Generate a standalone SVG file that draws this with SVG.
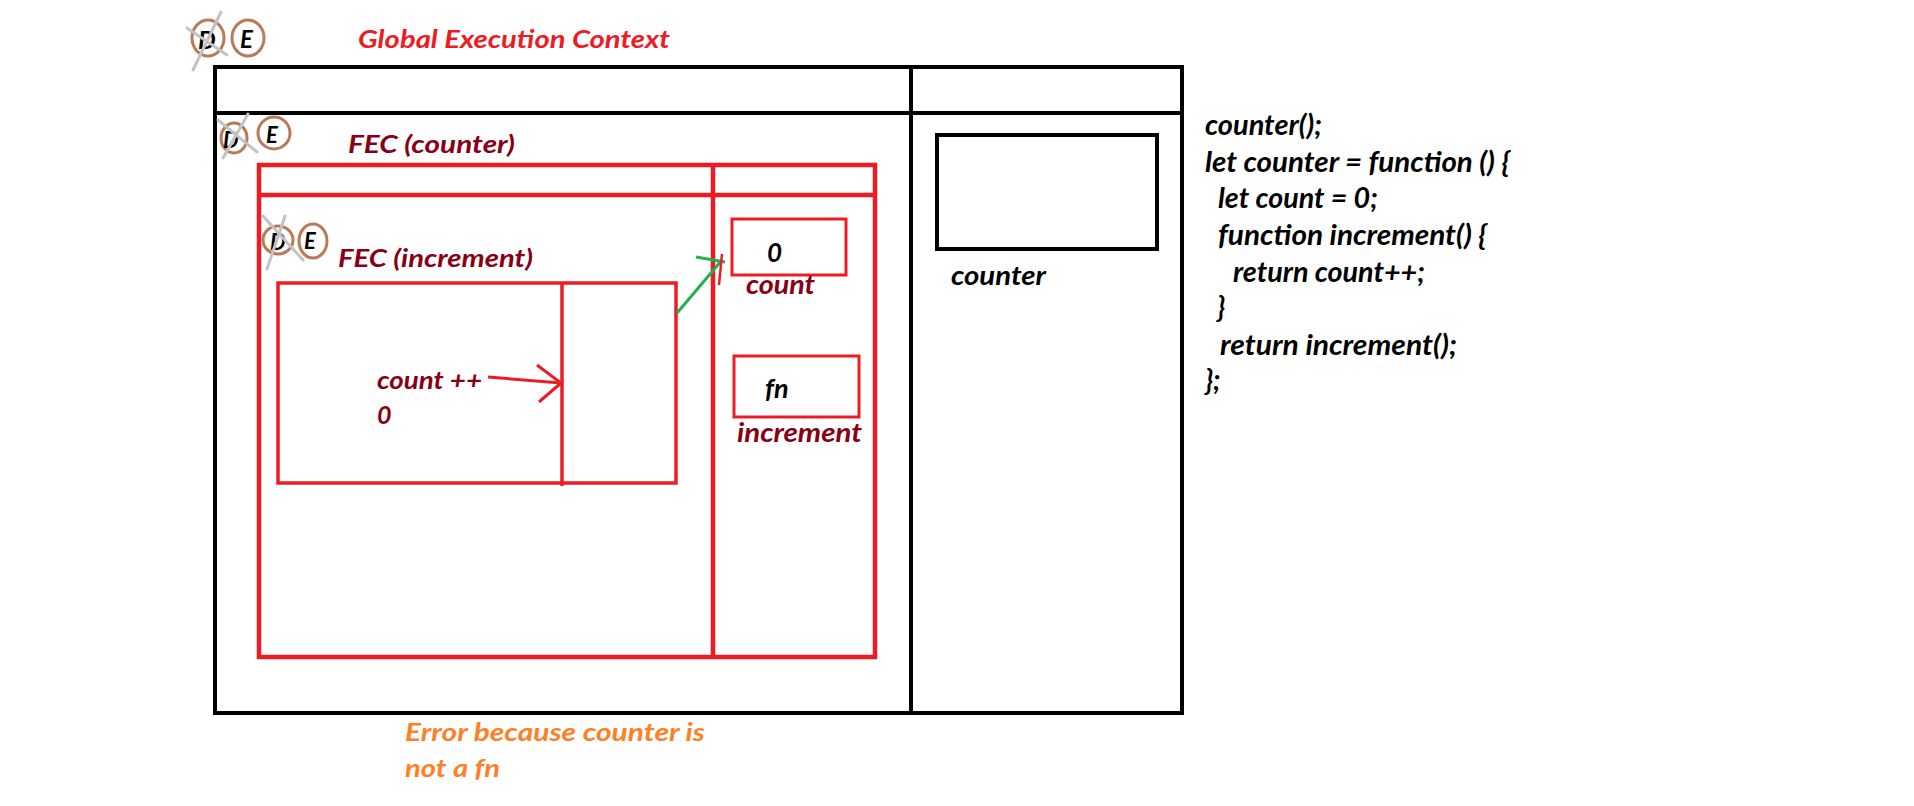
<svg xmlns="http://www.w3.org/2000/svg" width="1914" height="806" viewBox="0 0 1914 806">
<style>
  .t { font-family: "Lato", "Liberation Sans", sans-serif; font-weight: bold; font-style: italic; }
  .red { fill: #ED1C24; }
  .dred { fill: #880015; }
  .blk { fill: #000000; }
  .org { fill: #FF7F27; }
  .ring { fill: none; stroke: #B97A57; stroke-width: 3; }
  .cross { stroke: #C3C3C3; stroke-width: 3; stroke-linecap: round; }
  .bbox { fill: none; stroke: #000; stroke-width: 4; }
  .rbox { fill: none; stroke: #ED1C24; }
</style>
<rect width="1914" height="806" fill="#ffffff"/>

<g id="gec">
  <rect class="bbox" x="215" y="67" width="967" height="646"/>
  <line x1="215" y1="113" x2="1182" y2="113" stroke="#000" stroke-width="4"/>
  <line x1="911" y1="67" x2="911" y2="713" stroke="#000" stroke-width="4"/>
  <text class="t red" x="358" y="48" font-size="25" textLength="312" lengthAdjust="spacingAndGlyphs">Global Execution Context</text>
</g>

<g id="gec-de">
  <ellipse class="ring" cx="208" cy="38" rx="16" ry="18"/>
  <ellipse class="ring" cx="248" cy="38" rx="16" ry="18"/>
  <text class="t blk" x="198" y="49" font-size="25">D</text>
  <text class="t blk" x="240" y="48" font-size="24">E</text>
  <line class="cross" x1="187" y1="28" x2="227" y2="55"/>
  <line class="cross" x1="221" y1="12" x2="193" y2="70"/>
</g>

<g id="counter-var">
  <rect class="bbox" x="937" y="135" width="220" height="114"/>
  <text class="t blk" x="951" y="285" font-size="26" textLength="95" lengthAdjust="spacingAndGlyphs">counter</text>
</g>

<g id="code">
  <text class="t blk" x="1205" y="135" font-size="28" textLength="117" lengthAdjust="spacingAndGlyphs">counter();</text>
  <text class="t blk" x="1205" y="172" font-size="28" textLength="305" lengthAdjust="spacingAndGlyphs">let counter = function () {</text>
  <text class="t blk" x="1218" y="208" font-size="28" textLength="160" lengthAdjust="spacingAndGlyphs">let count = 0;</text>
  <text class="t blk" x="1218" y="245" font-size="28" textLength="269" lengthAdjust="spacingAndGlyphs">function increment() {</text>
  <text class="t blk" x="1233" y="282" font-size="28" textLength="192" lengthAdjust="spacingAndGlyphs">return count++;</text>
  <text class="t blk" x="1217" y="317" font-size="28">}</text>
  <text class="t blk" x="1220" y="355" font-size="28" textLength="237" lengthAdjust="spacingAndGlyphs">return increment();</text>
  <text class="t blk" x="1205" y="390" font-size="28">};</text>
</g>

<g id="fec-counter">
  <rect class="rbox" stroke-width="4.5" x="259" y="165" width="616" height="492"/>
  <line x1="259" y1="195" x2="875" y2="195" stroke="#ED1C24" stroke-width="4.5"/>
  <line x1="713" y1="165" x2="713" y2="657" stroke="#ED1C24" stroke-width="4.5"/>
  <text class="t dred" x="348" y="153" font-size="25" textLength="167" lengthAdjust="spacingAndGlyphs">FEC (counter)</text>
</g>

<g id="fec-counter-de">
  <ellipse class="ring" cx="234" cy="138" rx="13" ry="15"/>
  <ellipse class="ring" cx="274" cy="133" rx="16" ry="16"/>
  <text class="t blk" x="223" y="148" font-size="22">D</text>
  <text class="t blk" x="266" y="143" font-size="22">E</text>
  <line class="cross" x1="218" y1="120" x2="257" y2="152"/>
  <line class="cross" x1="248" y1="114" x2="223" y2="158"/>
</g>

<g id="count-var">
  <rect class="rbox" stroke-width="3" x="732" y="219" width="114" height="56"/>
  <text class="t blk" x="767" y="262" font-size="26">0</text>
  <text class="t dred" x="746" y="294" font-size="26" textLength="69" lengthAdjust="spacingAndGlyphs">count</text>
</g>

<g id="increment-var">
  <rect class="rbox" stroke-width="3" x="734" y="356" width="125" height="61"/>
  <text class="t blk" x="765" y="398" font-size="27">fn</text>
  <text class="t dred" x="737" y="442" font-size="26" textLength="125" lengthAdjust="spacingAndGlyphs">increment</text>
</g>

<g id="fec-increment">
  <rect class="rbox" stroke-width="3.5" x="278" y="283" width="398" height="200"/>
  <line x1="562" y1="282" x2="562" y2="486" stroke="#ED1C24" stroke-width="3.5"/>
  <text class="t dred" x="338" y="267" font-size="25" textLength="195" lengthAdjust="spacingAndGlyphs">FEC (increment)</text>
  <text class="t dred" x="377" y="389" font-size="25" textLength="105" lengthAdjust="spacingAndGlyphs">count ++</text>
  <text class="t dred" x="377" y="424" font-size="25">0</text>
</g>

<g id="fec-increment-de">
  <ellipse class="ring" cx="278" cy="240" rx="15" ry="14"/>
  <ellipse class="ring" cx="313" cy="241" rx="14" ry="17"/>
  <text class="t blk" x="270" y="250" font-size="22">D</text>
  <text class="t blk" x="304" y="249" font-size="22">E</text>
  <line class="cross" x1="263" y1="216" x2="303" y2="260"/>
  <line class="cross" x1="285" y1="216" x2="267" y2="269"/>
</g>

<g id="connectors">
  <line x1="488" y1="377" x2="561" y2="383" stroke="#ED1C24" stroke-width="3"/>
  <polyline points="537,365 561,383 539,402" fill="none" stroke="#ED1C24" stroke-width="3"/>
  <line x1="677" y1="313" x2="722" y2="260" stroke="#22B14C" stroke-width="3"/>
  <line x1="696" y1="257" x2="725" y2="262" stroke="#22B14C" stroke-width="3"/>
  <line x1="722" y1="254" x2="719" y2="285" stroke="#ED1C24" stroke-width="2.5"/>
</g>

<g id="error-note">
  <text class="t org" x="405" y="741" font-size="24" textLength="300" lengthAdjust="spacingAndGlyphs">Error because counter is</text>
  <text class="t org" x="405" y="777" font-size="24" textLength="95" lengthAdjust="spacingAndGlyphs">not a fn</text>
</g>
</svg>
